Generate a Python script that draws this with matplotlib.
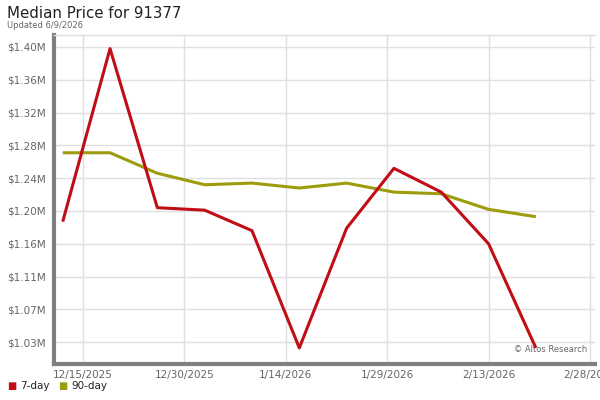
import numpy as np
import matplotlib.pyplot as plt
import matplotlib.dates as mdates
import pandas as pd

dates = pd.to_datetime(["2025-12-12", "2025-12-19", "2025-12-26", "2026-01-02", "2026-01-09",
                        "2026-01-16", "2026-01-23", "2026-01-30", "2026-02-06", "2026-02-13",
                        "2026-02-20"])
price_7day = [1.187, 1.398, 1.204, 1.201, 1.176, 1.033, 1.179, 1.252, 1.223, 1.160, 1.033]
price_90day = [1.271, 1.271, 1.246, 1.232, 1.234, 1.228, 1.234, 1.223, 1.221, 1.202, 1.193]

y_ticks = [1.04, 1.08, 1.12, 1.16, 1.20, 1.24, 1.28, 1.32, 1.36, 1.40]
y_labels = ["$1.03M", "$1.07M", "$1.11M", "$1.16M", "$1.20M", "$1.24M", "$1.28M", "$1.32M", "$1.36M", "$1.40M"]
x_ticks = pd.to_datetime(["2025-12-15", "2025-12-30", "2026-01-14", "2026-01-29", "2026-02-13", "2026-02-28"])
x_labels = ["12/15/2025", "12/30/2025", "1/14/2026", "1/29/2026", "2/13/2026", "2/28/2026"]

red = "#c00d16"
olive = "#9c9c0c"
grid_c = "#e0e0e0"
axis_c = "#808080"
text_c = "#666666"

plt.rcParams['font.family'] = 'DejaVu Sans'

fig = plt.figure(figsize=(6, 4), dpi=100)
ax = fig.add_axes([0.09, 0.09, 0.9017, 0.8225])

# 90-day under, 7-day on top
ax.plot(dates, price_90day, color=olive, linewidth=2.2, solid_capstyle='butt', zorder=3)
ax.plot(dates, price_7day, color=red, linewidth=2.2, solid_capstyle='butt', zorder=4)

ax.set_xlim(pd.Timestamp("2025-12-10 17:00"), pd.Timestamp("2026-02-28 18:00"))
ax.set_ylim(1.0134, 1.4146)

ax.set_yticks(y_ticks)
ax.set_yticklabels(y_labels)
ax.set_xticks(x_ticks)
ax.set_xticklabels(x_labels)
ax.tick_params(axis='both', length=0, labelsize=7.5, colors=text_c)
ax.tick_params(axis='x', pad=4)
ax.tick_params(axis='y', pad=6)

ax.grid(True, color=grid_c, linewidth=1)
ax.set_axisbelow(True)

ax.spines['top'].set_color(grid_c)
ax.spines['top'].set_linewidth(1)
ax.spines['right'].set_visible(False)
ax.spines['left'].set_color(axis_c)
ax.spines['left'].set_linewidth(3)
ax.spines['bottom'].set_color(axis_c)
ax.spines['bottom'].set_linewidth(3)

ax.text(0.985, 0.03, "\u00a9 Altos Research", transform=ax.transAxes, ha='right', va='bottom',
        fontsize=6, color=text_c)

fig.text(7 / 600, 1 - 13 / 400, "Median Price for 91377", fontsize=10.8, color="#222222", va='center')
fig.text(7 / 600, 1 - 25 / 400, "Updated 6/9/2026", fontsize=6, color=text_c, va='center')

fig.text(7 / 600, 1 - 386 / 400, "\u25a0", color=red, fontsize=7, va='center')
fig.text(20 / 600, 1 - 386 / 400, "7-day", color="#222222", fontsize=7.5, va='center')
fig.text(58 / 600, 1 - 386 / 400, "\u25a0", color=olive, fontsize=7, va='center')
fig.text(71 / 600, 1 - 386 / 400, "90-day", color="#222222", fontsize=7.5, va='center')

fig.savefig("out.png", dpi=100)
